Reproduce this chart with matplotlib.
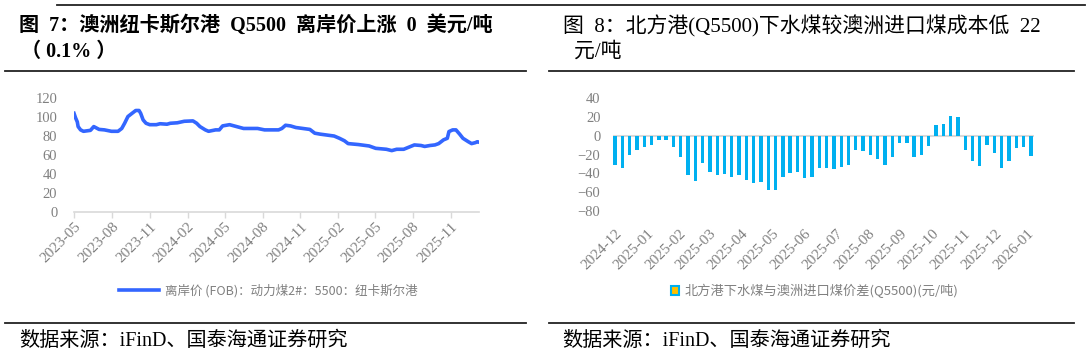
import pandas as pd
import matplotlib
matplotlib.use("Agg")
import matplotlib.pyplot as plt
import matplotlib.dates as mdates
from matplotlib.lines import Line2D
from matplotlib.patches import Patch

plt.rcParams['font.family'] = ['Liberation Serif', 'Noto Sans CJK SC']

## 图7 data: 离岸价(FOB):动力煤2#:5500:纽卡斯尔港
fob_dates = ['2023-05-01', '2023-05-05', '2023-05-09', '2023-05-11', '2023-05-17', '2023-05-24',
             '2023-06-10', '2023-06-18', '2023-07-01', '2023-07-14', '2023-07-31', '2023-08-16',
             '2023-08-25', '2023-09-01', '2023-09-09', '2023-09-19', '2023-09-28', '2023-10-06',
             '2023-10-10', '2023-10-16', '2023-10-23', '2023-11-01', '2023-11-17', '2023-11-26',
             '2023-12-13', '2023-12-21', '2024-01-07', '2024-01-24', '2024-02-14', '2024-02-23',
             '2024-03-02', '2024-03-15', '2024-03-23', '2024-04-09', '2024-04-18', '2024-04-26',
             '2024-05-13', '2024-05-30', '2024-06-16', '2024-07-20', '2024-08-06', '2024-09-09',
             '2024-09-17', '2024-09-26', '2024-10-08', '2024-10-21', '2024-11-07', '2024-11-24',
             '2024-12-06', '2024-12-19', '2025-01-05', '2025-01-22', '2025-02-04', '2025-02-16',
             '2025-02-25', '2025-03-22', '2025-04-17', '2025-05-03', '2025-05-29', '2025-06-11',
             '2025-06-23', '2025-07-10', '2025-07-27', '2025-08-05', '2025-08-21', '2025-08-30',
             '2025-09-12', '2025-09-24', '2025-10-03', '2025-10-15', '2025-10-24', '2025-10-28',
             '2025-11-06', '2025-11-14', '2025-11-23', '2025-12-01', '2025-12-14', '2025-12-22',
             '2025-12-31', '2026-01-05', '2026-01-09']
fob_values = [104, 99, 95, 90, 86.5, 85, 86, 90, 87, 86.5,
              85, 85, 88, 93.5, 100.6, 104, 107, 107, 104, 97,
              93.5, 92, 92, 93, 92.5, 93.5, 94, 95.6, 96, 93.5,
              90, 86.5, 85, 86.5, 86.5, 90.7, 92, 90, 88, 88,
              86.5, 86.5, 88, 91.4, 90.7, 89, 88, 87, 83, 82,
              81, 80, 77.6, 75, 72, 71, 69.5, 67, 66, 64.6,
              66, 66, 69, 70.6, 70, 69, 70, 70.6, 72, 76,
              77.6, 84.7, 86.5, 86.5, 82, 77.6, 74, 72, 73, 74, 73.5]
fob_ticks = ['2023-05', '2023-08', '2023-11', '2024-02', '2024-05', '2024-08',
             '2024-11', '2025-02', '2025-05', '2025-08', '2025-11']

## 图8 data: 北方港下水煤与澳洲进口煤价差, weekly
gap_dates = pd.date_range('2024-12-01', periods=58, freq='7D')
gap_values = [-31, -34, -20, -15, -12, -10, -5, -5, -12, -23,
              -42, -48, -29, -39, -42, -41, -44, -42, -47, -50,
              -49, -58, -58, -44, -40, -39, -45, -44, -34, -34,
              -36, -33, -31, -15, -16, -20, -25, -31, -23, -8,
              -8, -23, -20, -11, 12, 13, 21, 20, -15, -27,
              -32, -10, -18, -34, -27, -13, -12, -22]
gap_ticks = ['2024-12', '2025-01', '2025-02', '2025-03', '2025-04', '2025-05', '2025-06',
             '2025-07', '2025-08', '2025-09', '2025-10', '2025-11', '2025-12', '2026-01']

W, H = 1092, 353
GRAY = '#808080'
AXIS = '#D9D9D9'
fig = plt.figure(figsize=(W / 100, H / 100), dpi=100)


def rect(l, t, r, b):
    return [l / W, 1 - b / H, (r - l) / W, (b - t) / H]


def hline(x0, x1, y, lw=1.3):
    fig.add_artist(Line2D([x0 / W, x1 / W], [1 - y / H, 1 - y / H], color='#222222', lw=lw))


#%% chart 1 - line
ax1 = fig.add_axes(rect(74, 98.2, 479, 211.7))
ax1.plot(pd.to_datetime(fob_dates), fob_values, color='#3366FF', lw=2.6,
         label='离岸价 (FOB)：动力煤2#：5500：纽卡斯尔港')
ax1.set_ylim(0, 120)
ax1.set_yticks(range(0, 121, 20))
ax1.set_xlim(pd.Timestamp('2023-05-01'), pd.Timestamp('2026-01-09'))
ax1.set_xticks(pd.to_datetime(fob_ticks))
ax1.xaxis.set_major_formatter(mdates.DateFormatter('%Y-%m'))
for s in ['top', 'right', 'left']:
    ax1.spines[s].set_visible(False)
ax1.spines['bottom'].set_color(AXIS)
ax1.spines['bottom'].set_linewidth(1.2)
ax1.tick_params(axis='x', direction='out', length=4, color=AXIS, width=1, labelsize=11,
                labelcolor=GRAY, pad=2)
ax1.tick_params(axis='y', length=0, labelsize=10.5, labelcolor=GRAY, pad=12)
for lab in ax1.get_xticklabels():
    lab.set_rotation(45)
    lab.set_ha('right')
    lab.set_va('top')
    lab.set_rotation_mode('anchor')
leg1 = ax1.legend(loc='center', bbox_to_anchor=(268 / W, 1 - 291 / H), bbox_transform=fig.transFigure,
                  frameon=False, handlelength=3.2, handletextpad=0.5,
                  prop={'family': ['Noto Sans CJK SC'], 'size': 9})
for t in leg1.get_texts():
    t.set_color(GRAY)

#%% chart 2 - bars
ax2 = fig.add_axes(rect(613, 98.3, 1034, 210.7))
ax2.bar(gap_dates, gap_values, width=3.2, color='#00B0F0',
        label='北方港下水煤与澳洲进口煤价差(Q5500)(元/吨)')
ax2.axhline(0, color=AXIS, lw=1.5, zorder=0)
ax2.set_ylim(-80, 40)
ax2.set_yticks(range(-80, 41, 20))
ax2.set_xlim(pd.Timestamp('2024-11-29'), pd.Timestamp('2026-01-07'))
ax2.set_xticks(pd.to_datetime(gap_ticks))
ax2.xaxis.set_major_formatter(mdates.DateFormatter('%Y-%m'))
for s in ax2.spines.values():
    s.set_visible(False)
ax2.tick_params(axis='x', length=0, labelsize=11, labelcolor=GRAY, pad=12)
ax2.tick_params(axis='y', length=0, labelsize=10.5, labelcolor=GRAY, pad=9)
for lab in ax2.get_xticklabels():
    lab.set_rotation(45)
    lab.set_ha('right')
    lab.set_va('top')
    lab.set_rotation_mode('anchor')
h2 = Patch(facecolor='#FFC000', edgecolor='#00B0F0', linewidth=1.5)
leg2 = ax2.legend([h2], ['北方港下水煤与澳洲进口煤价差(Q5500)(元/吨)'], loc='center',
                  bbox_to_anchor=(815 / W, 1 - 291 / H), bbox_transform=fig.transFigure,
                  frameon=False, handlelength=0.6, handleheight=0.6, handletextpad=0.4,
                  prop={'family': ['Noto Sans CJK SC'], 'size': 9.5})
for t in leg2.get_texts():
    t.set_color(GRAY)

#%% titles, rules and source
hline(57, 1085, 5)
hline(5, 526, 71)
hline(549, 1074, 71)
hline(5, 526, 323)
hline(549, 1074, 323)

fig.text(19 / W, 1 - 26 / H, '图  7：澳洲纽卡斯尔港  Q5500  离岸价上涨  0  美元/吨',
         fontsize=14.5, fontweight='bold', va='center')
fig.text(21 / W, 1 - 52 / H, '（ 0.1% ）', fontsize=14.5, fontweight='bold', va='center')
fig.text(563 / W, 1 - 26 / H, '图  8：北方港(Q5500)下水煤较澳洲进口煤成本低  22',
         fontsize=15, va='center')
fig.text(574 / W, 1 - 52 / H, '元/吨', fontsize=15, va='center')
fig.text(19 / W, 1 - 341 / H, '数据来源：iFinD、国泰海通证券研究', fontsize=14.5, va='center')
fig.text(562 / W, 1 - 341 / H, '数据来源：iFinD、国泰海通证券研究', fontsize=14.5, va='center')

fig.savefig('out.png', dpi=100)
